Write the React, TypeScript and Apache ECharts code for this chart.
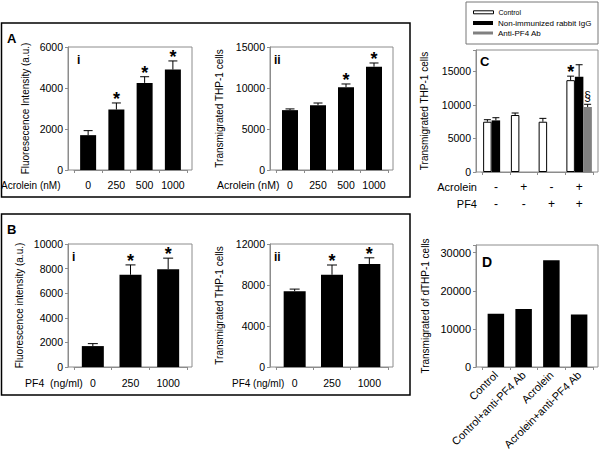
import React, { useEffect, useRef } from 'react';
import * as echarts from 'echarts';

const FONT = '"Liberation Sans", Arial, Helvetica, sans-serif';
const GRAY = '#8c8c8c';

// ---------- Panel A ----------
const acroleinDoses = ['0', '250', '500', '1000'];
const aiValues = [1700, 2950, 4250, 4900];
const aiErrors = [220, 320, 300, 420];
const aiSig = ['', '*', '*', '*'];
const aiTicks = [0, 2000, 4000, 6000];

const aiiValues = [7300, 7900, 10100, 12600];
const aiiErrors = [150, 270, 390, 450];
const aiiSig = ['', '', '*', '*'];
const aiiTicks = [0, 5000, 10000, 15000];

// ---------- Panel B ----------
const pf4Doses = ['0', '250', '1000'];
const biValues = [1700, 7500, 7950];
const biErrors = [200, 800, 900];
const biSig = ['', '*', '*'];
const biTicks = [0, 2000, 4000, 6000, 8000, 10000];

const biiValues = [7400, 9000, 10050];
const biiErrors = [200, 950, 600];
const biiSig = ['', '*', '*'];
const biiTicks = [0, 4000, 8000, 12000];

// ---------- Panel C ----------
const cAcrolein = ['-', '+', '-', '+'];
const cPf4 = ['-', '-', '+', '+'];
const cControl = [7500, 8500, 7500, 13700];
const cControlErr = [300, 300, 500, 600];
const cControlSig = ['', '', '', '*'];
const cIgG: (number | null)[] = [7700, null, null, 14200];
const cIgGErr: (number | null)[] = [400, null, null, 1800];
const cAnti: (number | null)[] = [null, null, null, 9700];
const cAntiErr: (number | null)[] = [null, null, null, 400];
const cAntiSig = ['', '', '', '§'];
const cTicks = [0, 5000, 10000, 15000];
const cMax = 18200;

// ---------- Panel D ----------
const dCategories = ['Control', 'Control+anti-PF4 Ab', 'Acrolein', 'Acrolein+anti-PF4 Ab'];
const dValues = [14000, 15200, 28000, 13800];
const dTicks = [0, 10000, 20000, 30000];
const dMax = 32000;

function errorBars(slot: number, nSlots: number, barW: number, capW: number, sig?: string[]) {
  return (params: any, api: any) => {
    const idx = api.value(0);
    const v = api.value(1);
    const e = api.value(2);
    const base = api.coord([idx, v]);
    const top = api.coord([idx, v + e]);
    const cx = base[0] + (slot - (nSlots - 1) / 2) * barW;
    const children: any[] = [
      { type: 'line', shape: { x1: cx, y1: base[1], x2: cx, y2: top[1] }, style: { stroke: '#000', lineWidth: 1 } },
      { type: 'line', shape: { x1: cx - capW / 2, y1: top[1], x2: cx + capW / 2, y2: top[1] }, style: { stroke: '#000', lineWidth: 1 } },
    ];
    const s = sig ? sig[idx] : '';
    if (s) {
      const star = s === '*';
      children.push({
        type: 'text',
        x: cx,
        y: top[1] - (star ? 4 : 8),
        style: {
          text: s, fill: '#000', fontFamily: FONT,
          fontSize: star ? 18 : 12, fontWeight: star ? 'bold' : 'normal',
          align: 'center', verticalAlign: 'middle',
        },
      });
    }
    return { type: 'group', children };
  };
}

function errData(values: (number | null)[], errs: (number | null)[]) {
  const out: number[][] = [];
  values.forEach((v, i) => {
    if (v != null && errs[i] != null) out.push([i, v, errs[i] as number]);
  });
  return out;
}

function catAxis(gridIndex: number, data: string[], fontSize: number, margin: number, extra: any = {}) {
  return {
    type: 'category', gridIndex, data,
    axisLine: { show: true, lineStyle: { color: GRAY } },
    axisTick: { show: true, length: 3, lineStyle: { color: GRAY } },
    axisLabel: { color: '#000', fontSize, fontFamily: FONT, margin, interval: 0, ...(extra.axisLabel || {}) },
    splitLine: { show: false },
  };
}

function valAxis(gridIndex: number, ticks: number[], max: number, name: string, nameGap: number, fontSize: number) {
  const interval = ticks[1] - ticks[0];
  return {
    type: 'value', gridIndex, min: ticks[0], max, interval, offset: 6,
    name, nameLocation: 'middle', nameRotate: 90, nameGap,
    nameTextStyle: { color: '#000', fontSize: 10, fontFamily: FONT },
    axisLine: { show: true, lineStyle: { color: GRAY } },
    axisTick: { show: true, length: 3, lineStyle: { color: GRAY } },
    axisLabel: {
      color: '#000', fontSize, fontFamily: FONT, margin: 5,
      formatter: (v: number) => (ticks.indexOf(v) >= 0 ? String(v) : ''),
    },
    splitLine: { show: false },
  };
}

function frame(x: number, y: number, w: number, h: number, stroke = GRAY, lineWidth = 1) {
  return { type: 'rect', silent: true, shape: { x, y, width: w, height: h }, style: { fill: 'transparent', stroke, lineWidth } };
}

function label(text: string, x: number, y: number, fontSize: number, opts: any = {}) {
  return {
    type: 'text', silent: true, x, y,
    style: { text, fill: '#000', fontFamily: FONT, fontSize, fontWeight: opts.bold ? 'bold' : 'normal', align: opts.align || 'left', verticalAlign: 'middle' },
  };
}

const nullToDash = (arr: (number | null)[]) => arr.map((v) => (v == null ? '-' : v));

export default function App() {
  const ref = useRef<HTMLDivElement>(null);
  useEffect(() => {
    if (!ref.current) return;
    const chart = echarts.init(ref.current, null, { renderer: 'svg' });
    const option: any = {
      animation: false,
      backgroundColor: '#fff',
      textStyle: { fontFamily: FONT },
      grid: [
        { left: 74, top: 47, width: 113, height: 123 },
        { left: 276, top: 47, width: 112, height: 123 },
        { left: 74, top: 244, width: 113, height: 123 },
        { left: 276, top: 244, width: 112, height: 123 },
        { left: 482, top: 50, width: 111, height: 122 },
        { left: 482, top: 245, width: 111, height: 122 },
      ],
      xAxis: [
        catAxis(0, acroleinDoses, 10.5, 9),
        catAxis(1, acroleinDoses, 10.5, 9),
        catAxis(2, pf4Doses, 10.5, 10),
        catAxis(3, pf4Doses, 10.5, 10),
        catAxis(4, cAcrolein.map((a, i) => a + '\n' + cPf4[i]), 12, 6.5, { axisLabel: { lineHeight: 17 } }),
        catAxis(5, dCategories, 11, 6, { axisLabel: { rotate: 45 } }),
      ],
      yAxis: [
        valAxis(0, aiTicks, aiTicks[aiTicks.length - 1], 'Fluoresecence Intensity (a.u.)', 37.5, 10.5),
        valAxis(1, aiiTicks, aiiTicks[aiiTicks.length - 1], 'Transmigrated THP-1 cells', 45.5, 10.5),
        valAxis(2, biTicks, biTicks[biTicks.length - 1], 'Fluorescence intensity (a.u.)', 43.5, 10.5),
        valAxis(3, biiTicks, biiTicks[biiTicks.length - 1], 'Transmigrated THP-1 cells', 45.5, 10.5),
        valAxis(4, cTicks, cMax, 'Transmigrated THP-1 cells', 47, 10.5),
        valAxis(5, dTicks, dMax, 'Transmigrated of dTHP-1 cells', 46, 11),
      ],
      legend: [
        {
          left: 473, top: 8.8, padding: 0, icon: 'rect', itemWidth: 20, itemHeight: 3, selectedMode: false,
          textStyle: { color: '#000', fontFamily: FONT, fontSize: 7 },
          data: [{ name: 'Control', itemStyle: { color: '#fff', borderColor: '#000', borderWidth: 1 } }],
        },
        {
          left: 473, top: 19, padding: 0, icon: 'rect', itemWidth: 20, itemHeight: 4, selectedMode: false,
          textStyle: { color: '#000', fontFamily: FONT, fontSize: 8 },
          data: [{ name: 'Non-immunized rabbit IgG', itemStyle: { color: '#000', borderWidth: 0 } }],
        },
        {
          left: 473, top: 29, padding: 0, icon: 'rect', itemWidth: 20, itemHeight: 3, selectedMode: false,
          textStyle: { color: '#000', fontFamily: FONT, fontSize: 8 },
          data: [{ name: 'Anti-PF4 Ab', itemStyle: { color: '#808080', borderWidth: 0 } }],
        },
      ],
      series: [
        // A-i
        { type: 'bar', xAxisIndex: 0, yAxisIndex: 0, data: aiValues, barWidth: 16, itemStyle: { color: '#000' } },
        { type: 'custom', xAxisIndex: 0, yAxisIndex: 0, z: 3, data: errData(aiValues, aiErrors), renderItem: errorBars(0, 1, 16, 9, aiSig) },
        // A-ii
        { type: 'bar', xAxisIndex: 1, yAxisIndex: 1, data: aiiValues, barWidth: 16, itemStyle: { color: '#000' } },
        { type: 'custom', xAxisIndex: 1, yAxisIndex: 1, z: 3, data: errData(aiiValues, aiiErrors), renderItem: errorBars(0, 1, 16, 9, aiiSig) },
        // B-i
        { type: 'bar', xAxisIndex: 2, yAxisIndex: 2, data: biValues, barWidth: 22, itemStyle: { color: '#000' } },
        { type: 'custom', xAxisIndex: 2, yAxisIndex: 2, z: 3, data: errData(biValues, biErrors), renderItem: errorBars(0, 1, 22, 10, biSig) },
        // B-ii
        { type: 'bar', xAxisIndex: 3, yAxisIndex: 3, data: biiValues, barWidth: 22, itemStyle: { color: '#000' } },
        { type: 'custom', xAxisIndex: 3, yAxisIndex: 3, z: 3, data: errData(biiValues, biiErrors), renderItem: errorBars(0, 1, 22, 10, biiSig) },
        // C
        { name: 'Control', type: 'bar', xAxisIndex: 4, yAxisIndex: 4, data: cControl, barWidth: 8.5, barGap: '0%', itemStyle: { color: '#fff', borderColor: '#000', borderWidth: 1 } },
        { name: 'Non-immunized rabbit IgG', type: 'bar', xAxisIndex: 4, yAxisIndex: 4, data: nullToDash(cIgG), barWidth: 8.5, barGap: '0%', itemStyle: { color: '#000' } },
        { name: 'Anti-PF4 Ab', type: 'bar', xAxisIndex: 4, yAxisIndex: 4, data: nullToDash(cAnti), barWidth: 8.5, barGap: '0%', itemStyle: { color: '#808080' } },
        { type: 'custom', xAxisIndex: 4, yAxisIndex: 4, z: 3, data: errData(cControl, cControlErr), renderItem: errorBars(0, 3, 8.5, 7, cControlSig) },
        { type: 'custom', xAxisIndex: 4, yAxisIndex: 4, z: 3, data: errData(cIgG, cIgGErr), renderItem: errorBars(1, 3, 8.5, 7) },
        { type: 'custom', xAxisIndex: 4, yAxisIndex: 4, z: 3, data: errData(cAnti, cAntiErr), renderItem: errorBars(2, 3, 8.5, 7, cAntiSig) },
        // D
        { type: 'bar', xAxisIndex: 5, yAxisIndex: 5, data: dValues, barWidth: 16.5, itemStyle: { color: '#000' } },
      ],
      graphic: [
        frame(1.5, 23, 408.5, 174, '#000', 1.5),
        frame(1.5, 214, 408.5, 181, '#000', 1.5),
        frame(466, 2, 132, 42, '#777', 1),
        frame(68, 47, 124, 123),
        frame(270, 47, 123, 123),
        frame(68, 244, 124, 123),
        frame(270, 244, 123, 123),
        frame(476, 50, 122, 122),
        frame(476, 245, 122, 122),
        label('A', 7, 38.5, 13, { bold: true }),
        label('B', 7, 229, 13, { bold: true }),
        label('C', 480, 61.5, 13, { bold: true }),
        label('D', 482, 262, 14, { bold: true }),
        label('i', 77, 60, 12, { bold: true }),
        label('ii', 274, 60, 12, { bold: true }),
        label('i', 72, 257, 12, { bold: true }),
        label('ii', 274, 257, 12, { bold: true }),
        label('Acrolein (nM)', 1, 185, 10),
        label('Acrolein (nM)', 217, 185, 10.5),
        label('PF4  (ng/ml)', 25, 383, 10.5),
        label('PF4 (ng/ml)', 232, 383, 10),
        label('Acrolein', 477, 187, 11, { align: 'right' }),
        label('PF4', 477, 204, 11, { align: 'right' }),
      ],
    };
    chart.setOption(option);
    return () => chart.dispose();
  }, []);
  return <div ref={ref} style={{ position: 'absolute', left: 0, top: 0, width: 600, height: 453 }} />;
}
